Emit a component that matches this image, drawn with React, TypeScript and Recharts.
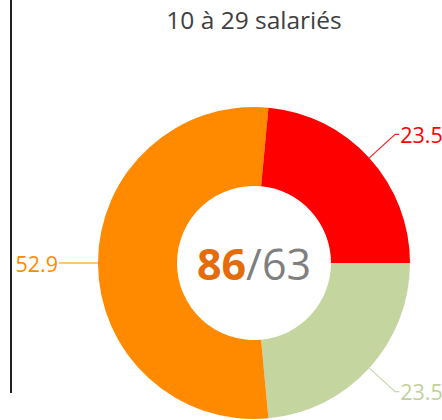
import { Cell, Pie, PieChart } from "recharts";

const title = "10 à 29 salariés";
const segments = ["Part A", "Part B", "Part C"];
const values = [23.5, 52.9, 23.5];
const colors = ["#C4D5A0", "#FF8A00", "#FF0000"];
const lineColors = ["#C8D8A8", "#FF8A00", "#FF2020"];
const textColors = ["#C2D09C", "#FF8A00", "#FF0000"];
const centerMain = "86";
const centerRest = "/63";

const data = segments.map((name, i) => ({ name, value: values[i] }));

const CX = 254;
const CY = 263;
const RAD = Math.PI / 180;
const font = "'Open Sans', sans-serif";

function renderLabel(props: any) {
  const { cx, cy, midAngle, outerRadius, value, index } = props;
  const cos = Math.cos(-midAngle * RAD);
  const sin = Math.sin(-midAngle * RAD);
  const x1 = cx + outerRadius * cos;
  const y1 = cy + outerRadius * sin;
  const x2 = cx + (outerRadius + 35) * cos;
  const y2 = cy + (outerRadius + 35) * sin;
  const right = cos >= 0;
  const x3 = x2 + (right ? 4 : -4);
  return (
    <g>
      <polyline
        points={`${x1},${y1} ${x2},${y2} ${x3},${y2}`}
        fill="none"
        stroke={lineColors[index]}
        strokeWidth={1.2}
      />
      <text
        x={x3 + (right ? 1 : -1)}
        y={y2}
        textAnchor={right ? "start" : "end"}
        dominantBaseline="central"
        fill={textColors[index]}
        fontSize={21.5}
        fontFamily={font}
      >
        {value}
      </text>
    </g>
  );
}

export default function App() {
  return (
    <div style={{ position: "absolute", left: 0, top: 0, width: 442, height: 420, background: "#fff" }}>
      <div
        style={{
          position: "absolute",
          left: 10,
          top: 0,
          width: 2,
          height: 393,
          background: "#222",
        }}
      />
      <div
        style={{
          position: "absolute",
          left: 54,
          width: 400,
          top: 3,
          textAlign: "center",
          fontFamily: font,
          fontSize: 24.5,
          lineHeight: "34px",
          color: "#404040",
        }}
      >
        {title}
      </div>
      <div style={{ position: "absolute", left: 0, top: 0 }}>
        <PieChart width={442} height={420} margin={{ top: 0, right: 0, bottom: 0, left: 0 }}>
          <Pie
            data={data}
            dataKey="value"
            nameKey="name"
            cx={CX}
            cy={CY}
            innerRadius={77}
            outerRadius={156}
            startAngle={0}
            endAngle={-360}
            stroke="none"
            label={renderLabel}
            labelLine={false}
            isAnimationActive={false}
          >
            {data.map((d, i) => (
              <Cell key={d.name} fill={colors[i]} />
            ))}
          </Pie>
        </PieChart>
      </div>
      <svg
        width={442}
        height={420}
        style={{ position: "absolute", left: 0, top: 0, pointerEvents: "none" }}
      >
        <text
          x={CX}
          y={CY}
          textAnchor="middle"
          dominantBaseline="central"
          fontFamily={font}
          fontSize={43}
        >
          <tspan fill="#E46C0A" fontWeight="bold">
            {centerMain}
          </tspan>
          <tspan fill="#7F7F7F">{centerRest}</tspan>
        </text>
      </svg>
    </div>
  );
}
